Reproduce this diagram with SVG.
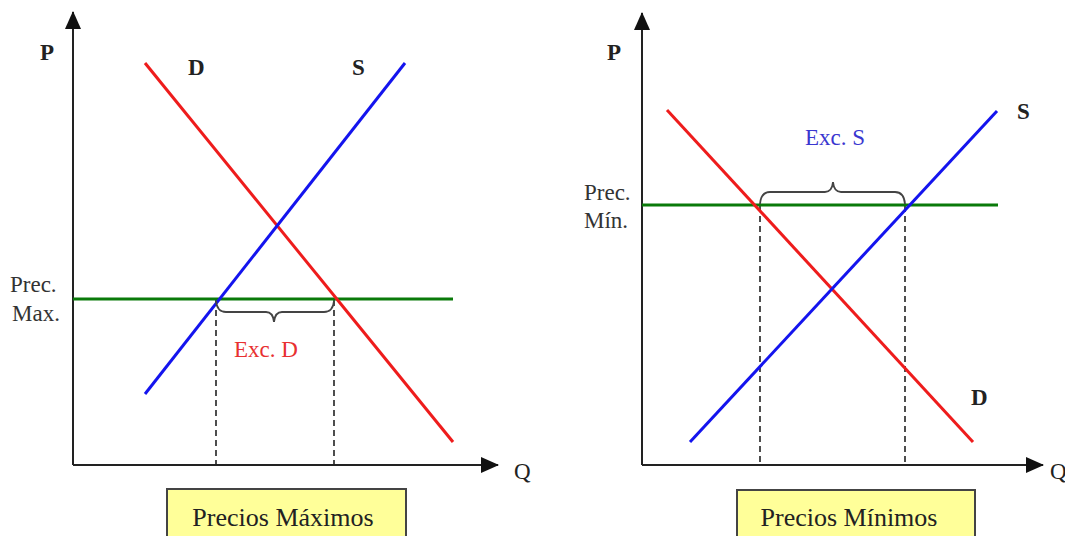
<svg xmlns="http://www.w3.org/2000/svg" width="1065" height="536" viewBox="0 0 1065 536">
<style>
text{font-family:'Liberation Serif','DejaVu Serif',serif;font-size:23px;fill:#222}
.lbl{font-weight:bold}
.ttl{font-size:26px}
.axis{stroke:#222;stroke-width:2;fill:none}
.dem{stroke:#ee1c1c;stroke-width:3;fill:none}
.sup{stroke:#1414ee;stroke-width:3;fill:none}
.pr{stroke:#0a7a0a;stroke-width:3;fill:none}
.dash{stroke:#222;stroke-width:1.6;stroke-dasharray:6,4;fill:none}
.brace{stroke:#444;stroke-width:1.8;fill:none}
.box{fill:#ffff99;stroke:#444;stroke-width:2}
</style>
<defs>
<marker id="arr" viewBox="0 0 18 16" refX="17" refY="8" markerWidth="18" markerHeight="16" markerUnits="userSpaceOnUse" orient="auto">
<path d="M0,0 L18,8 L0,16 z" fill="#111"/>
</marker>
</defs>
<rect width="1065" height="536" fill="#fff"/>

<g id="left-chart">
<g id="left-axes">
<line class="axis" x1="73" y1="465" x2="73" y2="12" marker-end="url(#arr)"/>
<line class="axis" x1="73" y1="465" x2="498" y2="465" marker-end="url(#arr)"/>
<text class="lbl" x="40" y="60" font-family="Liberation Serif, serif">P</text>
<text x="514" y="479" font-family="Liberation Serif, serif">Q</text>
</g>
<g id="left-connectors">
<line class="dash" x1="216" y1="300" x2="216" y2="465"/>
<line class="dash" x1="334" y1="300" x2="334" y2="465"/>
<line class="pr" x1="73" y1="299" x2="453" y2="299"/>
<line class="dem" x1="145" y1="63" x2="453" y2="442"/>
<line class="sup" x1="145" y1="394" x2="405" y2="63"/>
<path class="brace" d="M216,301 Q217,312 226,312 L266,312 Q273,312 274,322 Q275,312 282,312 L324,312 Q333,312 334,301"/>
</g>
<g id="left-labels">
<text class="lbl" x="188" y="75" font-family="Liberation Serif, serif">D</text>
<text class="lbl" x="352" y="75" font-family="Liberation Serif, serif">S</text>
<text x="10" y="292" font-family="Liberation Serif, serif" style="fill:#333">Prec.</text>
<text x="12" y="321" font-family="Liberation Serif, serif" style="fill:#333">Max.</text>
<text x="234" y="357" font-family="Liberation Serif, serif" style="fill:#e83030">Exc. D</text>
</g>
<g id="left-title">
<rect class="box" x="167" y="489" width="239" height="52"/>
<text class="ttl" x="283" y="526" text-anchor="middle" font-family="Liberation Serif, serif">Precios Máximos</text>
</g>
</g>

<g id="right-chart">
<g id="right-axes">
<line class="axis" x1="642" y1="465" x2="642" y2="13" marker-end="url(#arr)"/>
<line class="axis" x1="642" y1="465" x2="1043" y2="465" marker-end="url(#arr)"/>
<text class="lbl" x="607" y="60" font-family="Liberation Serif, serif">P</text>
<text x="1050" y="479" font-family="Liberation Serif, serif">Q</text>
</g>
<g id="right-connectors">
<line class="dash" x1="760" y1="206" x2="760" y2="465"/>
<line class="dash" x1="905" y1="206" x2="905" y2="465"/>
<line class="pr" x1="642" y1="205" x2="998" y2="205"/>
<line class="dem" x1="667" y1="110" x2="973" y2="442"/>
<line class="sup" x1="690" y1="442" x2="997" y2="111"/>
<path class="brace" d="M760,204 Q761,192 770,192 L825,192 Q832,192 833,182 Q834,192 841,192 L895,192 Q904,192 905,204"/>
</g>
<g id="right-labels">
<text class="lbl" x="1017" y="119" font-family="Liberation Serif, serif">S</text>
<text class="lbl" x="971" y="405" font-family="Liberation Serif, serif">D</text>
<text x="584" y="200" font-family="Liberation Serif, serif" style="fill:#333">Prec.</text>
<text x="584" y="228" font-family="Liberation Serif, serif" style="fill:#333">Mín.</text>
<text x="805" y="145" font-family="Liberation Serif, serif" style="fill:#3a36d0">Exc. S</text>
</g>
<g id="right-title">
<rect class="box" x="737" y="490" width="238" height="52"/>
<text class="ttl" x="849" y="526" text-anchor="middle" font-family="Liberation Serif, serif">Precios Mínimos</text>
</g>
</g>
</svg>
